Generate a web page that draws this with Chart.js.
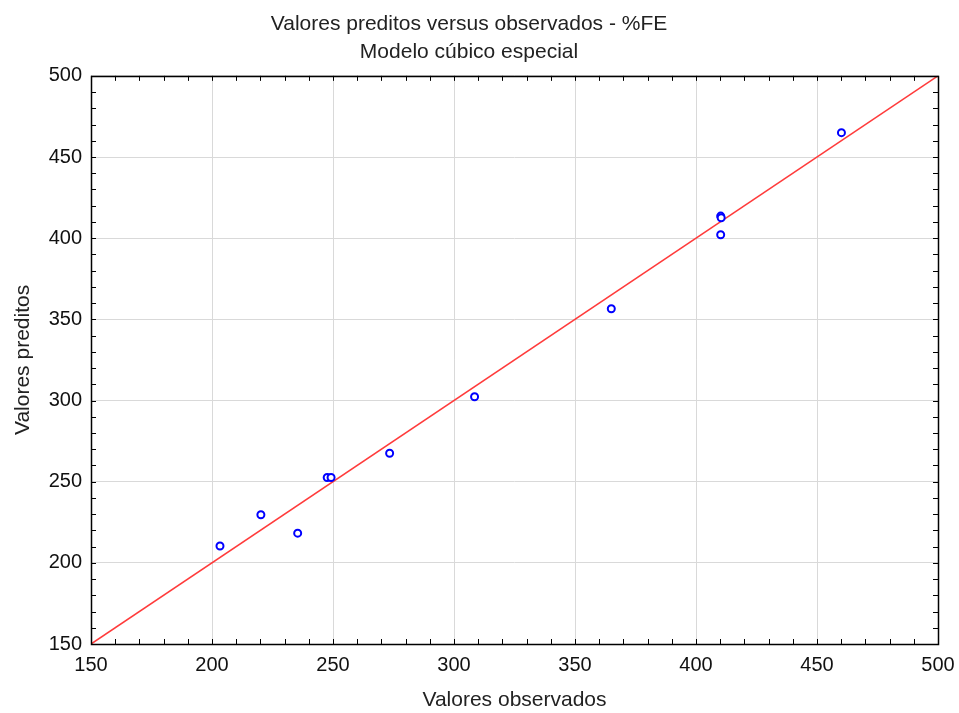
<!DOCTYPE html>
<html>
<head>
<meta charset="utf-8">
<script src="https://cdn.jsdelivr.net/npm/chart.js@4.4.0/dist/chart.umd.min.js"></script>
<style>
  body { margin: 0; background: #fff; }
  #grafico { display: block; }
</style>
</head>
<body>
<canvas id="grafico" width="959" height="713"></canvas>
<script>
// valores
const observados = [203.3, 220.2, 235.4, 247.6, 249.2, 273.4, 308.5, 365.0, 410.2, 410.4, 410.2, 460.1];
const preditos   = [210.4, 229.6, 218.3, 252.6, 252.6, 267.5, 302.3, 356.5, 413.6, 412.6, 402.1, 465.0];
const retaX = [150, 500];
const retaY = [150, 500];
const titulo = ['Valores preditos versus observados - %FE', 'Modelo cúbico especial'];
const eixoMin = 150, eixoMax = 500, passoMaior = 50, passoMenor = 10;

const fonte = "'Liberation Sans', Arial, sans-serif";

// moldura e ticks menores para dentro
const moldura = {
  id: 'moldura',
  afterDraw(chart) {
    const ctx = chart.ctx;
    const a = chart.chartArea;
    const sx = chart.scales.x, sy = chart.scales.y;
    ctx.save();
    ctx.strokeStyle = '#000';
    ctx.lineWidth = 1;
    ctx.beginPath();
    for (let v = eixoMin; v <= eixoMax; v += passoMenor) {
      const px = Math.round(sx.getPixelForValue(v)) + 0.5;
      const py = Math.round(sy.getPixelForValue(v)) + 0.5;
      ctx.moveTo(px, a.bottom); ctx.lineTo(px, a.bottom - 5);
      ctx.moveTo(px, a.top); ctx.lineTo(px, a.top + 5);
      ctx.moveTo(a.left, py); ctx.lineTo(a.left + 5, py);
      ctx.moveTo(a.right, py); ctx.lineTo(a.right - 5, py);
    }
    ctx.stroke();
    ctx.lineWidth = 1.5;
    ctx.strokeRect(Math.round(a.left) + 0.5, Math.round(a.top) + 0.5,
                   Math.round(a.right - a.left), Math.round(a.bottom - a.top));
    ctx.restore();
  }
};

new Chart(document.getElementById('grafico').getContext('2d'), {
  type: 'scatter',
  data: {
    datasets: [
      {
        type: 'scatter',
        data: observados.map((x, i) => ({ x: x, y: preditos[i] })),
        pointStyle: 'circle',
        pointRadius: 3.5,
        pointBorderWidth: 2,
        borderColor: '#0000ff',
        backgroundColor: '#ffffff',
        order: 1
      },
      {
        type: 'line',
        data: retaX.map((x, i) => ({ x: x, y: retaY[i] })),
        borderColor: '#ff3b3b',
        borderWidth: 1.6,
        pointRadius: 0,
        fill: false,
        order: 2
      }
    ]
  },
  options: {
    responsive: false,
    animation: false,
    layout: { padding: { left: 0, right: 21, top: 0, bottom: 0 } },
    plugins: {
      legend: { display: false },
      tooltip: { enabled: false },
      title: {
        display: true,
        text: titulo,
        color: '#222',
        font: { family: fonte, size: 21, weight: 'normal', lineHeight: 1.33 },
        padding: { top: 10, bottom: 10 }
      }
    },
    scales: {
      x: {
        type: 'linear',
        min: eixoMin, max: eixoMax,
        ticks: { stepSize: passoMaior, color: '#111', padding: 9,
                 font: { family: fonte, size: 20 } },
        grid: { color: '#d9d9d9', lineWidth: 1, drawTicks: false },
        border: { display: false },
        title: { display: true, text: 'Valores observados', color: '#222',
                 font: { family: fonte, size: 21 }, padding: { top: 2, bottom: 0 } },
        afterFit(scale) {
          scale.height = 69;
          scale.paddingLeft = 0;
          scale.paddingRight = 0;
        }
      },
      y: {
        type: 'linear',
        min: eixoMin, max: eixoMax,
        ticks: { stepSize: passoMaior, color: '#111', padding: 9,
                 font: { family: fonte, size: 20 } },
        grid: { color: '#d9d9d9', lineWidth: 1, drawTicks: false },
        border: { display: false },
        title: { display: true, text: 'Valores preditos', color: '#222',
                 font: { family: fonte, size: 21 }, padding: { top: 11, bottom: 0 } },
        afterFit(scale) {
          scale.width = 91;
          scale.paddingTop = 0;
          scale.paddingBottom = 0;
        }
      }
    }
  },
  plugins: [moldura]
});
</script>
</body>
</html>
